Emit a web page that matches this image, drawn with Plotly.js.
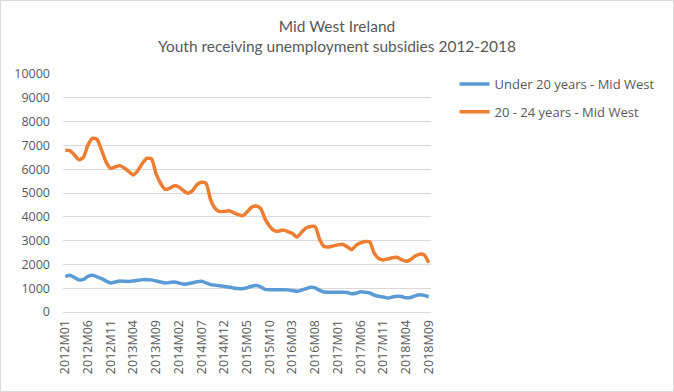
<!DOCTYPE html>
<html>
<head>
<meta charset="utf-8">
<script src="https://cdn.plot.ly/plotly-3.0.1.min.js"></script>
<style>html,body{margin:0;padding:0;background:#fff;}#chart{width:674px;height:392px;}</style>
</head>
<body>
<div id="chart"></div>
<script>
// Months 2012M01 .. 2018M09
var months = [];
for (var y = 2012; y <= 2018; y++) {
  for (var m = 1; m <= 12; m++) {
    if (y === 2018 && m > 9) break;
    months.push(y + 'M' + (m < 10 ? '0' + m : m));
  }
}
var tickLabels = ['2012M01','2012M06','2012M11','2013M04','2013M09','2014M02','2014M07','2014M12',
  '2015M05','2015M10','2016M03','2016M08','2017M01','2017M06','2017M11','2018M04','2018M09'];
var yTicks = [0,1000,2000,3000,4000,5000,6000,7000,8000,9000,10000];

var under20 = [1490,1540,1450,1350,1370,1500,1540,1480,1400,1300,
  1220,1260,1300,1290,1280,1300,1330,1360,1360,1350,
  1300,1260,1220,1240,1260,1220,1170,1190,1230,1270,
  1290,1220,1150,1130,1100,1070,1050,1010,985,975,
  1020,1080,1110,1060,950,935,935,935,935,930,
  900,870,920,980,1040,1010,910,840,830,830,
  830,830,820,770,790,850,830,800,710,660,
  630,590,630,660,650,600,610,680,720,700,640];

var age20to24 = [6800,6780,6600,6400,6500,7020,7300,7250,6800,6300,
  6030,6100,6150,6050,5900,5760,5950,6250,6460,6430,
  5800,5400,5150,5200,5300,5250,5100,4990,5100,5350,
  5450,5400,4710,4350,4220,4230,4250,4180,4100,4040,
  4200,4400,4450,4350,3900,3600,3420,3400,3450,3380,
  3300,3150,3350,3530,3590,3590,3050,2750,2730,2780,
  2820,2850,2750,2620,2800,2900,2960,2950,2470,2250,
  2190,2230,2280,2300,2200,2130,2200,2350,2430,2400,2070];

var font = 'Lato, "Open Sans", sans-serif';
var font2 = '"Open Sans", Lato, sans-serif';
var grey = '#595959';

var traces = [
  {x: months, y: under20, type: 'scatter', mode: 'lines', name: 'Under 20 years - Mid West',
   legendgroup: 'a', line: {color: '#5B9BD5', width: 3.5, shape: 'spline', smoothing: 0.6}},
  {x: months, y: age20to24, type: 'scatter', mode: 'lines', name: '20 - 24 years - Mid West',
   legendgroup: 'b', line: {color: '#ED7D31', width: 3.5, shape: 'spline', smoothing: 0.6}}
];

var layout = {
  width: 674, height: 392,
  margin: {l: 63, r: 243, t: 74, b: 80},
  paper_bgcolor: '#fff', plot_bgcolor: '#fff',
  font: {family: font, color: grey, size: 12},
  title: {text: 'Mid West Ireland<br>Youth receiving unemployment subsidies 2012-2018',
    font: {family: font, size: 15.5, color: grey}, x: 0.5, xref: 'container', xanchor: 'center',
    y: 1 - 32 / 392, yref: 'container', yanchor: 'middle'},
  xaxis: {type: 'category', range: [-0.5, 80.5], tickmode: 'array', tickvals: tickLabels, ticktext: tickLabels,
    tickangle: -90, showgrid: false, showline: true, linecolor: '#d9d9d9', linewidth: 1,
    ticks: '', ticklabelstandoff: 2, tickfont: {family: font2, size: 12.5, color: grey}, zeroline: false, fixedrange: true},
  yaxis: {range: [0, 10000], tickmode: 'array', tickvals: yTicks, ticktext: yTicks.map(String),
    showgrid: true, gridcolor: '#d9d9d9', gridwidth: 1, zeroline: false, showline: false,
    ticks: '', ticklen: 0, ticklabelstandoff: 12, tickfont: {family: font2, size: 12.5, color: grey}, fixedrange: true},
  showlegend: true,
  legend: {x: 1.064, y: 1.021, xanchor: 'left', yanchor: 'top', bgcolor: 'rgba(0,0,0,0)',
    font: {family: font2, size: 13, color: grey}, tracegroupgap: 8},
  shapes: [{type: 'rect', xref: 'paper', yref: 'paper',
    x0: (0.5 - 63) / 368, x1: (673.5 - 63) / 368, y0: (312 - 391.5) / 238, y1: (312 - 0.5) / 238,
    line: {color: '#d9d9d9', width: 1}, fillcolor: 'rgba(0,0,0,0)', layer: 'below'}]
};

Plotly.newPlot('chart', traces, layout, {displayModeBar: false, staticPlot: true});
</script>
</body>
</html>
